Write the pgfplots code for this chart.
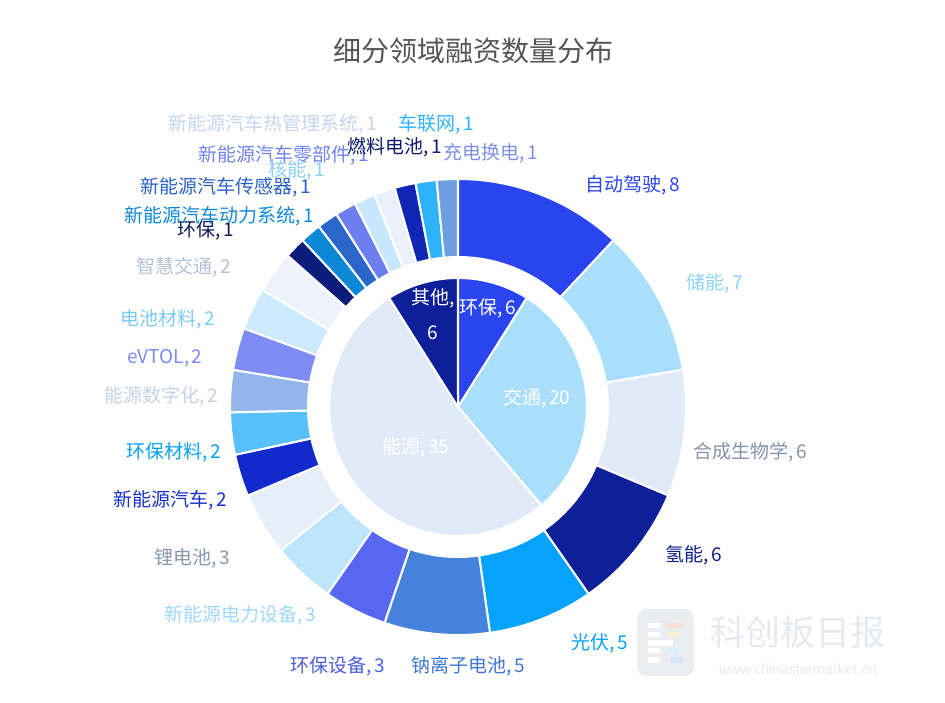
\documentclass[border=0pt]{standalone}
\usepackage{pgfplots}
\usepackage{pgfplotstable}
\usepackage{fontspec}
\pgfplotsset{compat=1.18}
\newfontfamily\cjk{Noto Sans CJK SC}
\newfontfamily\lat{Liberation Sans}

% outer ring: value, fill, label colour, label centre in px (from top left)
\pgfplotstableread{
v fill lab lx ly name
8 2A45F0 2A45F0 633 185 自动驾驶
7 AADFFC 8ED1F8 715 283 储能
6 E1EBF8 8294AC 750 452 合成生物学
6 0E1F9A 0E1F8A 694 555 氢能
5 05A3FF 07A2FF 600 643 光伏
5 4582DC 3F78D4 468 666 钠离子电池
3 5568EF 4B5FE0 338 666 环保设备
3 BEE5FC A0D8F8 240 615 新能源电力设备
3 E6EEF9 8796AC 192 558 锂电池
2 132ACB 1530CC 170 500 新能源汽车
2 58C0FA 07A0F5 174 452 环保材料
2 93B5E9 C5D2E8 161 396 能源数字化
2 7F8CF4 7C8CF2 165 358 eVTOL
2 CDEBFD 7ACBF5 168 319 电池材料
2 EDF2FB B4C0D4 184 267 智慧交通
1 0C1C7A 0D1B5A 206 230 环保
1 0A88D6 0E88D8 219 216 新能源汽车动力系统
1 2B67CB 2A60C8 226 187 新能源汽车传感器
1 6C7EF0 6F82EE 284 155 新能源汽车零部件
1 C6E7FC 8CCFF5 297 170 核能
1 EAF1FB C5D5EE 273 124 新能源汽车热管理系统
1 1126B4 0D1A6E 395 147 燃料电池
1 2CB3FC 2DB4FC 436 124 车联网
1 6E9EE2 7F90E5 491 153 充电换电
}\outer

% inner pie
\pgfplotstableread{
v fill lx ly wrap name
6 2A45F0 488 308 0 环保
20 AADFFC 537 398 0 交通
35 E1EBF8 416 447 0 能源
6 0E1F9A 433 314 1 其他
}\inner

\pgfplotstablecreatecol[create col/expr accum={\pgfmathaccuma + \thisrow{v}}{0}]{cum}\outer
\pgfplotstablecreatecol[create col/expr accum={\pgfmathaccuma + \thisrow{v}}{0}]{cum}\inner

\definecolor{titlegray}{HTML}{555555}
\definecolor{wmgray}{HTML}{E6E9ED}
\definecolor{wmbox}{HTML}{EBEDF0}
\definecolor{wm1}{HTML}{FBE0D3}
\definecolor{wm2}{HTML}{FCEFD6}
\definecolor{wm3}{HTML}{D8EEFA}
\definecolor{wm4}{HTML}{D9E6F8}

\begin{document}
\begin{tikzpicture}
\begin{axis}[
  width=945pt, height=702pt, scale only axis,
  xmin=0, xmax=945, ymin=0, ymax=702,
  hide axis, clip=false,
]
\pgfplotsextra{
 \begin{scope}[x=1pt, y=1pt, shift={(axis cs:0,0)}]
  \path (0,0) rectangle (945,702);
  % title
  \node[text=titlegray, font=\cjk\fontsize{28}{32}\selectfont] at (473,651) {细分领域融资数量分布};

  % outer ring
  \pgfplotstablegetrowsof{\outer}
  \pgfmathtruncatemacro{\nrows}{\pgfplotsretval-1}
  \foreach \i in {0,...,\nrows}{
    \pgfplotstablegetelem{\i}{v}\of{\outer}\let\sv\pgfplotsretval
    \pgfplotstablegetelem{\i}{cum}\of{\outer}\let\scum\pgfplotsretval
    \pgfplotstablegetelem{\i}{fill}\of{\outer}\let\sfill\pgfplotsretval
    \pgfplotstablegetelem{\i}{lab}\of{\outer}\let\slab\pgfplotsretval
    \pgfplotstablegetelem{\i}{lx}\of{\outer}\let\lx\pgfplotsretval
    \pgfplotstablegetelem{\i}{ly}\of{\outer}\let\lyy\pgfplotsretval
    \pgfplotstablegetelem{\i}{name}\of{\outer}\let\nm\pgfplotsretval
    \edef\tmp{\noexpand\definecolor{sc}{HTML}{\sfill}\noexpand\definecolor{lc}{HTML}{\slab}}\tmp
    \pgfmathsetmacro{\sa}{90-(\scum-\sv)/67*360}
    \pgfmathsetmacro{\sd}{-\sv/67*360}
    \pgfmathsetmacro{\sb}{\sa+\sd}
    \pgfmathsetmacro{\ly}{702-\lyy}
    \filldraw[fill=sc, draw=white, line width=2pt]
      plot[domain=0:1, samples=40, variable=\t] ({458+228*cos(\sa+\sd*\t)}, {295+228*sin(\sa+\sd*\t)})
      -- plot[domain=0:1, samples=40, variable=\t] ({458+150*cos(\sb-\sd*\t)}, {295+150*sin(\sb-\sd*\t)})
      -- cycle;
    \node[text=lc, inner sep=0pt, font=\cjk\fontsize{19}{22}\selectfont] at (\lx,\ly) {\nm,\hspace{2.5pt}\sv};
  }

  % inner pie
  \pgfplotstablegetrowsof{\inner}
  \pgfmathtruncatemacro{\nrows}{\pgfplotsretval-1}
  \foreach \i in {0,...,\nrows}{
    \pgfplotstablegetelem{\i}{v}\of{\inner}\let\sv\pgfplotsretval
    \pgfplotstablegetelem{\i}{cum}\of{\inner}\let\scum\pgfplotsretval
    \pgfplotstablegetelem{\i}{fill}\of{\inner}\let\sfill\pgfplotsretval
    \pgfplotstablegetelem{\i}{lx}\of{\inner}\let\lx\pgfplotsretval
    \pgfplotstablegetelem{\i}{ly}\of{\inner}\let\lyy\pgfplotsretval
    \pgfplotstablegetelem{\i}{wrap}\of{\inner}\let\wrapit\pgfplotsretval
    \pgfplotstablegetelem{\i}{name}\of{\inner}\let\nm\pgfplotsretval
    \edef\tmp{\noexpand\definecolor{sc}{HTML}{\sfill}}\tmp
    \pgfmathsetmacro{\sa}{90-(\scum-\sv)/67*360}
    \pgfmathsetmacro{\sd}{-\sv/67*360}
    \pgfmathsetmacro{\ly}{702-\lyy}
    \filldraw[fill=sc, draw=white, line width=2pt]
      (458,295) -- plot[domain=0:1, samples=80, variable=\t] ({458+129*cos(\sa+\sd*\t)}, {295+129*sin(\sa+\sd*\t)})
      -- cycle;
    \ifnum\wrapit=1
      \node[text=white, align=center, inner sep=0pt, font=\cjk\fontsize{19}{35}\selectfont] at (\lx,\ly) {\nm,\\\sv};
    \else
      \node[text=white, inner sep=0pt, font=\cjk\fontsize{19}{22}\selectfont] at (\lx,\ly) {\nm,\hspace{2.5pt}\sv};
    \fi
  }

  % watermark
  \fill[wmbox, rounded corners=9pt] (637,26) rectangle (694,93);
  \fill[white] (648,74) rectangle (660,79);
  \fill[white] (648,65) rectangle (660,70);
  \fill[white] (648,56) rectangle (673,62);
  \fill[white] (648,49) rectangle (660,54);
  \fill[white] (648,39) rectangle (660,45);
  \fill[wm1] (667,74) rectangle (683,79);
  \fill[wm2] (667,65) rectangle (680,70);
  \fill[wm3] (667,49) rectangle (678,54);
  \fill[wm4] (670,39) rectangle (683,45);
  \node[text=wmgray, inner sep=0pt, font=\cjk\fontsize{35}{38}\selectfont] at (798,70) {科创板日报};
  \node[text=wmgray, inner sep=0pt, font=\lat\fontsize{14.5}{16}\selectfont] at (798,33) {www.chinastarmarket.cn};
 \end{scope}
}
\end{axis}
\end{tikzpicture}
\end{document}
